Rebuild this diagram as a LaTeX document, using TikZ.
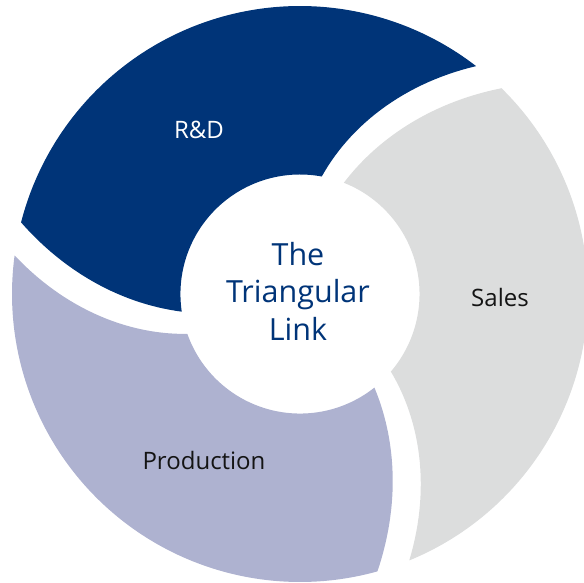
\documentclass[tikz,border=0pt]{standalone}
\usepackage{fontspec}
\setmainfont{Open Sans}
\usetikzlibrary{positioning}
\definecolor{rdblue}{RGB}{0,52,120}
\definecolor{prodlilac}{RGB}{174,178,208}
\definecolor{salesgrey}{RGB}{220,221,221}
\definecolor{labelblack}{RGB}{20,20,20}
\newcommand\DrawRingPart[2]{%
	\pgfmathsetmacro\aOne{\angOutA+#1} % outer start
	\pgfmathsetmacro\aTwo{\angOutB+#1} % outer end
	\pgfmathsetmacro\bOne{\angInA+#1} % inner start
	\pgfmathsetmacro\bTwo{\angInB+#1} % inner end
	% both cut edges run as a spiral from the outer to the inner circle
	\fill[#2] (\aOne:\R) arc (\aOne:\aTwo:\R)
		-- plot[variable=\t,domain=0:1,samples=30] ({\aTwo+(\bTwo-\aTwo)*\t}:{\R-(\R-\Ri)*\t})
		arc (\bTwo:\bOne:\Ri)
		-- plot[variable=\t,domain=0:1,samples=30] ({\bOne-(\bOne-\aOne)*\t}:{\Ri+(\R-\Ri)*\t})
		-- cycle;
}
\tikzset{%
	inner sep=0pt,%
	outer sep=2pt,%
	part label/.style={font=\fontsize{24}{29}\selectfont,text=labelblack},%
	link text/.style={font=\fontsize{30.5}{37.5}\selectfont,text=rdblue,align=center}%
}

\begin{document}
\begin{tikzpicture}[x=1pt,y=1pt]
	%% some definitions
	
	\def\R{288} % outer radius
	\def\Ri{119.5} % inner radius
	\def\angOutA{52.3} % outer arc of the first part
	\def\angOutB{165.6}
	\def\angInA{79.5} % inner arc of the first part
	\def\angInB{188.5}
	
	\useasboundingbox (-300,-289) rectangle (284,294);
	\coordinate (O) at (0,0);
	
	% the three parts of the ring
	\foreach \rot/\col in {0/rdblue,120/prodlilac,240/salesgrey} { \DrawRingPart{\rot}{\col} }
	
	%labelling the parts
	\node[part label,text=white] (rd) at (-101,164) {R\&D};
	\node[part label] (sales) at (200,-4) {Sales};
	\node[part label] (prod) at (-96,-167) {Production};
	\node[link text] (link) at (-2,3) {The\\Triangular\\Link};
	
\end{tikzpicture}
\end{document}
